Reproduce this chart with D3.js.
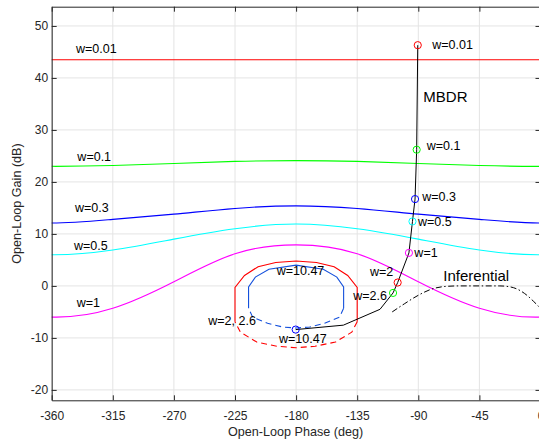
<!DOCTYPE html>
<html>
<head>
<meta charset="utf-8">
<script src="https://cdn.jsdelivr.net/npm/d3@7"></script>
<style>
  body { margin: 0; background: #fff; }
  svg { display: block; font-family: "Liberation Sans", Arial, Helvetica, sans-serif; }
</style>
</head>
<body>
<svg id="chart" width="539" height="443"></svg>
<script>
// Phase grid for the frequency bounds (extended one step past each end so the splines stay periodic)
const boundPhase = [-405, -360, -315, -270, -225, -180, -135, -90, -45, 0, 45];
const boundW001 = [43.5, 43.5, 43.5, 43.5, 43.5, 43.5, 43.5, 43.5, 43.5, 43.5, 43.5];
const boundW01  = [23.15, 23.0, 23.15, 23.55, 23.95, 24.1, 23.95, 23.55, 23.15, 23.0, 23.15];
const boundW03  = [12.8, 12.1, 12.8, 13.8, 14.9, 15.4, 14.9, 13.8, 12.8, 12.1, 12.8];
const boundW05  = [6.9, 6.0, 6.9, 9.0, 11.0, 11.9, 11.0, 9.0, 6.9, 6.0, 6.9];
const boundW1   = [-4.3, -6.0, -4.3, 0.8, 6.2, 7.9, 6.2, 0.8, -4.3, -6.0, -4.3];

// Closed bounds at w=2 / 2.6 (outer) and w=10.47 (inner): solid upper part, dashed lower part
const outerUpperPhase = [-225, -225, -218, -208, -195, -180, -165, -152, -142, -135, -135];
const outerUpperGain  = [-6.9, -0.3, 2.0, 3.7, 4.5, 4.8, 4.5, 3.7, 2.0, -0.3, -6.9];
const outerLowerPhase = [-135, -139, -151, -166, -180, -194, -209, -221, -225];
const outerLowerGain  = [-6.9, -8.9, -10.8, -11.6, -11.9, -11.6, -10.8, -8.9, -6.9];
const innerUpperPhase = [-215, -215, -210, -200, -180, -160, -150, -145, -145];
const innerUpperGain  = [-4.3, -0.2, 1.7, 3.2, 4.0, 3.2, 1.7, -0.2, -4.3];
const innerLowerPhase = [-145, -148, -159, -170, -180, -190, -201, -212, -215];
const innerLowerGain  = [-4.3, -6.0, -7.2, -7.9, -8.1, -7.9, -7.2, -6.0, -4.3];

// MBDR open-loop response
const mbdrPhase = [-90.4, -91.2, -92.4, -94.3, -96.9, -105.2, -108.6, -118.2, -145.2, -180.3];
const mbdrGain  = [46.3, 26.2, 16.7, 12.4, 6.35, 0.65, -1.35, -4.5, -7.55, -8.4];

// Frequency markers on the MBDR response
const markerPhase = [-90.4, -91.2, -92.4, -94.3, -96.9, -105.2, -108.6, -180.3];
const markerGain  = [46.3, 26.2, 16.7, 12.4, 6.35, 0.65, -1.35, -8.4];
const markerColor = ["#ff0000", "#00ff00", "#0000ff", "#00ffff", "#ff00ff", "#ff0000", "#00ff00", "#0000ff"];

// Inferential open-loop response
const infPhase = [-109.2, -100, -90, -80, -70, -60, -30, -22, -15, -10, -5, 0];
const infGain  = [-5.0, -3.4, -1.8, -0.6, -0.1, 0.0, 0.0, -0.2, -0.9, -1.8, -3.0, -4.3];

// Axis ticks
const xTicks = [-360, -315, -270, -225, -180, -135, -90, -45, 0];
const yTicks = [-20, -10, 0, 10, 20, 30, 40, 50];

// Text annotations (anchored at their left baseline, in plot units)
const noteText  = ["w=0.01", "w=0.1", "w=0.3", "w=0.5", "w=1", "w=2, 2.6", "w=10.47", "w=10.47",
                   "w=0.01", "w=0.1", "w=0.3", "w=0.5", "w=1", "w=2", "w=2.6", "MBDR", "Inferential"];
const notePhase = [-342.1, -341.1, -342.8, -343.6, -341.6, -244.7, -194.3, -192.6,
                   -79.7, -83.8, -87.1, -90.2, -92.9, -125.6, -137.9, -86.3, -71.6];
const noteGain  = [44.8, 24.0, 14.3, 7.0, -4.15, -7.55, 2.05, -10.9,
                   45.5, 26.2, 16.3, 11.5, 5.6, 1.9, -2.75, 35.4, 0.9];
const noteBig   = ["MBDR", "Inferential"];

const svg = d3.select("#chart");
const plotL = 51.7, plotR = 540.5, plotT = 6.7, plotB = 400.3;
const axisColor = "#262626";

const x = d3.scaleLinear().domain([-360, 0]).range([plotL, plotR]);
const y = d3.scaleLinear().domain([-22, 53.7]).range([plotB, plotT]);

svg.append("defs").append("clipPath").attr("id", "plotClip")
  .append("rect").attr("x", plotL).attr("y", plotT)
  .attr("width", plotR - plotL).attr("height", plotB - plotT);

// Grid
const grid = svg.append("g").attr("stroke", "#e4e4e4").attr("stroke-width", 1);
grid.selectAll(".gx").data(xTicks).join("line").attr("class", "gx")
  .attr("x1", d => x(d)).attr("x2", d => x(d)).attr("y1", plotT).attr("y2", plotB);
grid.selectAll(".gy").data(yTicks).join("line").attr("class", "gy")
  .attr("x1", plotL).attr("x2", plotR).attr("y1", d => y(d)).attr("y2", d => y(d));

const plot = svg.append("g").attr("clip-path", "url(#plotClip)").attr("fill", "none");

const smooth = d3.line().x(d => x(d[0])).y(d => y(d[1])).curve(d3.curveNatural);
const straight = d3.line().x(d => x(d[0])).y(d => y(d[1]));
const zip = (a, b) => a.map((v, i) => [v, b[i]]);

const bounds = [
  [boundW001, "#ff0000"],
  [boundW01, "#00ff00"],
  [boundW03, "#0000ff"],
  [boundW05, "#00ffff"],
  [boundW1, "#ff00ff"]
];
bounds.forEach(([vals, col]) => {
  plot.append("path").attr("d", smooth(zip(boundPhase, vals)))
    .attr("stroke", col).attr("stroke-width", 1.1);
});

// Closed bounds
const loopBlue = "#1450dc";
plot.append("path").attr("d", straight(zip(outerUpperPhase, outerUpperGain)))
  .attr("stroke", "#ff0000").attr("stroke-width", 1.1);
plot.append("path").attr("d", straight(zip(outerLowerPhase, outerLowerGain)))
  .attr("stroke", "#ff0000").attr("stroke-width", 1.1).attr("stroke-dasharray", "6,4");
plot.append("path").attr("d", straight(zip(innerUpperPhase, innerUpperGain)))
  .attr("stroke", loopBlue).attr("stroke-width", 1.1);
plot.append("path").attr("d", straight(zip(innerLowerPhase, innerLowerGain)))
  .attr("stroke", loopBlue).attr("stroke-width", 1.1).attr("stroke-dasharray", "6,4");

// Responses
plot.append("path").attr("d", straight(zip(mbdrPhase, mbdrGain)))
  .attr("stroke", "#000").attr("stroke-width", 1);
plot.append("path").attr("d", d3.line().x(d => x(d[0])).y(d => y(d[1])).curve(d3.curveMonotoneX)(zip(infPhase, infGain)))
  .attr("stroke", "#000").attr("stroke-width", 1).attr("stroke-dasharray", "6,2.5,1.5,2.5");

// Markers
plot.selectAll("circle").data(zip(markerPhase, markerGain)).join("circle")
  .attr("cx", d => x(d[0])).attr("cy", d => y(d[1])).attr("r", 3.6)
  .attr("stroke", (d, i) => markerColor[i]).attr("stroke-width", 1).attr("fill", "none");

// Annotations
svg.append("g").selectAll("text").data(noteText).join("text")
  .attr("x", (d, i) => x(notePhase[i])).attr("y", (d, i) => y(noteGain[i]))
  .attr("font-size", d => noteBig.includes(d) ? 15 : 12.5)
  .attr("fill", "#000")
  .text(d => d);

// Axes with inward ticks; plain hyphen for negative numbers
const fmt = d => String(d);
const gx = svg.append("g").attr("transform", `translate(0,${plotB})`)
  .call(d3.axisBottom(x).tickValues(xTicks).tickFormat(fmt).tickSizeInner(-5).tickSizeOuter(0).tickPadding(10.7));
const gy = svg.append("g").attr("transform", `translate(${plotL},0)`)
  .call(d3.axisLeft(y).tickValues(yTicks).tickFormat(fmt).tickSizeInner(-5).tickSizeOuter(0).tickPadding(3.6));
const gt = svg.append("g").attr("transform", `translate(0,${plotT})`)
  .call(d3.axisTop(x).tickValues(xTicks).tickFormat("").tickSizeInner(-5).tickSizeOuter(0));
const gr = svg.append("g").attr("transform", `translate(${plotR},0)`)
  .call(d3.axisRight(y).tickValues(yTicks).tickFormat("").tickSizeInner(-5).tickSizeOuter(0));

[gx, gy, gt, gr].forEach(g => {
  g.select(".domain").attr("stroke", axisColor).attr("stroke-width", 1);
  g.selectAll(".tick line").attr("stroke", axisColor).attr("stroke-width", 1);
  g.selectAll(".tick text").attr("fill", axisColor).attr("font-size", 12)
    .attr("font-family", "\"Liberation Sans\", Arial, Helvetica, sans-serif");
});

// Axis titles
svg.append("text").attr("x", (plotL + plotR) / 2 - 0.5).attr("y", 436)
  .attr("text-anchor", "middle").attr("font-size", 12.6).attr("fill", axisColor)
  .text("Open-Loop Phase (deg)");
svg.append("text").attr("transform", `translate(21,${(plotT + plotB) / 2}) rotate(-90)`)
  .attr("text-anchor", "middle").attr("font-size", 12.6).attr("fill", axisColor)
  .text("Open-Loop Gain (dB)");
</script>
</body>
</html>
